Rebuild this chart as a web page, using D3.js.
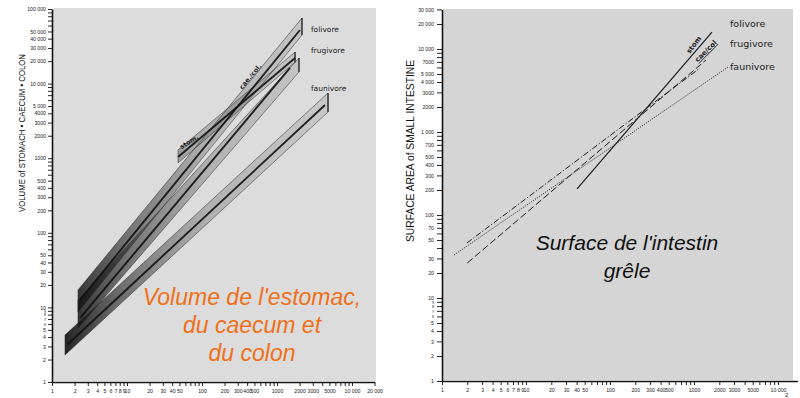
<!DOCTYPE html>
<html><head><meta charset="utf-8">
<script src="https://cdn.jsdelivr.net/npm/d3@7"></script>
<style>body{margin:0;background:#fff;}svg{display:block;}</style>
</head><body>
<svg id="c" width="800" height="398"></svg>
<script>
// ---------- LEFT PANEL DATA (volume of stomach + caecum + colon) ----------
const leftYLabelValues = [1,2,3,4,5,6,7,8,9,10,20,30,40,50,100,200,300,400,500,1000,2000,3000,4000,5000,10000,20000,30000,40000,50000,100000];
const leftYLabelTexts  = ["1","2","3","4","5","6","7","8","9","10","20","30","40","50","100","200","300","400","500","1000","2000","3000","4000","5 000","10 000","20 000","30 000","40 000","50 000","100 000"];
const leftXLabelValues = [1,2,3,4,5,6,7,8,9,10,20,30,40,50,100,200,300,400,500,1000,2000,3000,5000,10000,20000];
const leftXLabelTexts  = ["1","2","3","4","5","6","7","8","9","10","20","30","40","50","100","200","300","400","500","1000","2000","3000","5000","10 000","20 000"];

// shaded bands: start x / low / high, end x / low / high
const bandNames     = ["folivore","frugivore","faunivore","stom"];
const bandStartX    = [2.22, 2.22, 1.49, 47.9];
const bandStartLow  = [8.7, 5.3, 2.3, 862];
const bandStartHigh = [17.1, 12.6, 4.27, 1290];
const bandEndX      = [2154, 1964, 4790, 1740];
const bandEndLow    = [44800, 14300, 4160, 19400];
const bandEndHigh   = [75700, 22000, 7480, 26500];

// dark core lines of each band
const coreStartX = [2.36, 2.36, 1.58, 47.9];
const coreStartY = [12.6, 7.2, 3.13, 1038];
const coreEndX   = [2026, 1490, 4365, 1740];
const coreEndY   = [52300, 16200, 5160, 22000];

// ---------- RIGHT PANEL DATA (surface area of small intestine) ----------
const rightYLabelValues = [1,2,3,4,5,6,7,8,9,10,20,30,50,70,100,200,300,400,500,700,1000,2000,3000,4000,5000,7000,10000,20000,30000];
const rightYLabelTexts  = ["1","2","3","4","5","6","7","8","9","10","20","30","50","70","100","200","300","400","500","700","1 000","2000","3000","4 000","5 000","7000","10 000","20 000","30 000"];
const rightXLabelValues = [1,2,3,4,5,6,7,8,9,10,20,30,40,50,100,200,300,400,500,1000,2000,3000,5000,10000];
const rightXLabelTexts  = ["1","2","3","4","5","6","7","8","9","10","20","30","40","50","100","200","300","400","500","1000","2000","3000","5000","10 000"];

const lineNames  = ["stom","cae/col dash-dot","cae/col dash","faunivore"];
const lineStartX = [40.5, 1.98, 2.0, 1.39];
const lineStartY = [206, 46, 26.4, 33];
const lineEndX   = [1637, 1180, 1390, 2540];
const lineEndY   = [16000, 5900, 7370, 6070];
const lineDash   = ["none", "6,2,1.2,2", "7,3", "1,1.4"];

const dietLabels = ["folivore","frugivore","faunivore"];

// ---------- DRAWING ----------
const svg = d3.select("#c");
const tickFont = "Liberation Sans, Arial, sans-serif";

function allLogTicks(maxExp, extra){
  const t=[];
  for(let k=0;k<maxExp;k++) for(let m=1;m<=9;m++) t.push(m*Math.pow(10,k));
  return t.concat(extra);
}

// scales
const xL = d3.scaleLog().domain([1,20000]).range([52, 52+75*Math.log10(20000)]);
const yL = d3.scaleLog().domain([1,100000]).range([382, 9]);
const xR = d3.scaleLog().domain([1,17000]).range([442, 442+84*Math.log10(17000)]);
const yR = d3.scaleLog().domain([1,30000]).range([381, 381-83*Math.log10(30000)]);

// backgrounds
svg.append("rect").attr("x",53).attr("y",8).attr("width",323).attr("height",373).attr("fill","#dcdcdc");
svg.append("rect").attr("x",443).attr("y",9).attr("width",350).attr("height",371).attr("fill","#d5d5d5");

function styleAxis(g, labelVals, labelTexts, tinySmall){
  const map = new Map(labelVals.map((v,i)=>[v,labelTexts[i]]));
  g.select(".domain").attr("stroke","#111").attr("stroke-width",1.6);
  g.selectAll(".tick line").attr("stroke","#111").attr("stroke-width",0.9);
  g.selectAll(".tick text")
    .text(d=>map.has(d)?map.get(d):"")
    .attr("font-family",tickFont)
    .attr("font-size",d=>(tinySmall&&d>=6&&d<=9)?3.8:5.2)
    .attr("fill","#222");
}

// left axes
const gLY = svg.append("g").attr("transform","translate(52,0)")
  .call(d3.axisLeft(yL).tickValues(allLogTicks(5,[100000])).tickSize(4).tickSizeOuter(0).tickPadding(2));
styleAxis(gLY, leftYLabelValues, leftYLabelTexts, true);
const gLX = svg.append("g").attr("transform","translate(0,382)")
  .call(d3.axisBottom(xL).tickValues(allLogTicks(4,[10000,20000])).tickSize(4).tickSizeOuter(0).tickPadding(3));
styleAxis(gLX, leftXLabelValues, leftXLabelTexts, false);

// right axes
const gRY = svg.append("g").attr("transform","translate(442,0)")
  .call(d3.axisLeft(yR).tickValues(allLogTicks(4,[10000,20000,30000])).tickSize(5).tickSizeOuter(0).tickPadding(3));
styleAxis(gRY, rightYLabelValues, rightYLabelTexts, true);
const gRX = svg.append("g").attr("transform","translate(0,381)")
  .call(d3.axisBottom(xR).tickValues(allLogTicks(4,[10000])).tickSize(4).tickSizeOuter(0).tickPadding(3));
styleAxis(gRX, rightXLabelValues, rightXLabelTexts, false);

// gradient for bands
const defs = svg.append("defs");
const grad = defs.append("linearGradient").attr("id","bandGrad")
  .attr("gradientUnits","userSpaceOnUse").attr("x1",60).attr("y1",0).attr("x2",330).attr("y2",0);
grad.append("stop").attr("offset",0).attr("stop-color","#0c0c0c").attr("stop-opacity",0.92);
grad.append("stop").attr("offset",0.22).attr("stop-color","#222").attr("stop-opacity",0.6);
grad.append("stop").attr("offset",0.55).attr("stop-color","#444").attr("stop-opacity",0.28);
grad.append("stop").attr("offset",1).attr("stop-color","#666").attr("stop-opacity",0.16);

const gBands = svg.append("g");
bandNames.forEach((n,i)=>{
  const pts = [
    [xL(bandStartX[i]), yL(bandStartLow[i])],
    [xL(bandStartX[i]), yL(bandStartHigh[i])],
    [xL(bandEndX[i]), yL(bandEndHigh[i])],
    [xL(bandEndX[i]), yL(bandEndLow[i])]
  ];
  gBands.append("path").attr("d", d3.line()(pts)+"Z")
    .attr("fill","url(#bandGrad)").attr("stroke","#2a2a2a").attr("stroke-width",0.7).attr("stroke-opacity",0.75);
  // end bar
  gBands.append("line")
    .attr("x1",xL(bandEndX[i])).attr("x2",xL(bandEndX[i]))
    .attr("y1",yL(bandEndLow[i])).attr("y2",yL(bandEndHigh[i]))
    .attr("stroke","#222").attr("stroke-width",1.2);
});
bandNames.forEach((n,i)=>{
  gBands.append("line")
    .attr("x1",xL(coreStartX[i])).attr("y1",yL(coreStartY[i]))
    .attr("x2",xL(coreEndX[i])).attr("y2",yL(coreEndY[i]))
    .attr("stroke","#111").attr("stroke-width",1.9).attr("stroke-opacity",0.9);
});

// left labels
const labFont = "DejaVu Sans, sans-serif";
const leftLabelY = [yL(49400), yL(25700), yL(7960)];
dietLabels.forEach((t,i)=>{
  svg.append("text").attr("x",xL(2840)).attr("y",leftLabelY[i]).text(t)
    .attr("font-family",labFont).attr("font-size",7.5).attr("fill","#222");
});
svg.append("text").attr("transform",`translate(${xL(70)},${yL(1560)}) rotate(-32)`)
  .attr("text-anchor","middle").text("stom.").attr("font-family",labFont).attr("font-size",6.5).attr("font-weight","bold").attr("fill","#222");
svg.append("text").attr("transform",`translate(${xL(464)},${yL(11900)}) rotate(-50)`)
  .attr("text-anchor","middle").text("cae./col.").attr("font-family",labFont).attr("font-size",6.5).attr("font-weight","bold").attr("fill","#222");

// right lines
lineNames.forEach((n,i)=>{
  svg.append("line")
    .attr("x1",xR(lineStartX[i])).attr("y1",yR(lineStartY[i]))
    .attr("x2",xR(lineEndX[i])).attr("y2",yR(lineEndY[i]))
    .attr("stroke","#1a1a1a").attr("stroke-width",i===0?1.2:1)
    .attr("stroke-dasharray",lineDash[i]==="none"?null:lineDash[i]);
});
const rightLabelY = [yR(18400), yR(10570), yR(5590)];
dietLabels.forEach((t,i)=>{
  svg.append("text").attr("x",730).attr("y",rightLabelY[i]).text(t)
    .attr("font-family",labFont).attr("font-size",9.5).attr("fill","#222");
});
svg.append("text").attr("transform",`translate(${xR(1050)},${yR(10800)}) rotate(-52)`)
  .attr("text-anchor","middle").text("stom").attr("font-family",labFont).attr("font-size",7).attr("font-weight","bold").attr("fill","#222");
svg.append("text").attr("transform",`translate(${xR(1450)},${yR(9000)}) rotate(-45)`)
  .attr("text-anchor","middle").text("cae/col").attr("font-family",labFont).attr("font-size",7).attr("font-weight","bold").attr("fill","#222")
  .attr("text-decoration","underline");

// axis titles
svg.append("text").attr("transform","translate(25,133) rotate(-90)").attr("text-anchor","middle")
  .text("VOLUME of STOMACH • CAECUM • COLON").attr("font-family",tickFont).attr("font-size",9)
  .attr("textLength",158).attr("lengthAdjust","spacingAndGlyphs").attr("fill","#111");
svg.append("text").attr("transform","translate(414,151) rotate(-90)").attr("text-anchor","middle")
  .text("SURFACE AREA of SMALL INTESTINE").attr("font-family",tickFont).attr("font-size",10)
  .attr("textLength",182).attr("lengthAdjust","spacingAndGlyphs").attr("fill","#111");

// captions
const capL = ["Volume de l'estomac,","du caecum et","du colon"];
capL.forEach((t,i)=>{
  svg.append("text").attr("x",252).attr("y",305+i*28).attr("text-anchor","middle").text(t)
    .attr("font-family","Liberation Sans, Arial, sans-serif").attr("font-style","italic")
    .attr("font-size",23).attr("fill","#f07018");
});
const capR = ["Surface de l'intestin","grêle"];
capR.forEach((t,i)=>{
  svg.append("text").attr("x",627).attr("y",250+i*28).attr("text-anchor","middle").text(t)
    .attr("font-family","Liberation Sans, Arial, sans-serif").attr("font-style","italic")
    .attr("font-size",21).attr("fill","#111");
});
svg.append("text").attr("x",785).attr("y",397).text("2").attr("font-family",tickFont).attr("font-size",6).attr("fill","#222");
</script>
</body></html>
